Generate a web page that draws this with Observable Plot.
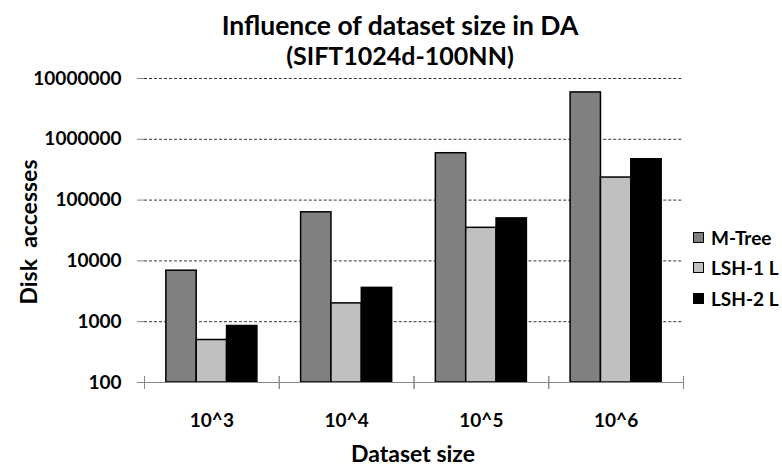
<!DOCTYPE html>
<html><head><meta charset="utf-8">
<script src="https://cdn.jsdelivr.net/npm/d3@7"></script>
<script src="https://cdn.jsdelivr.net/npm/@observablehq/plot@0.6"></script>
<style>
body{margin:0;background:#fff;font-family:Lato,sans-serif}
#wrap{position:relative;width:782px;height:468px}
#title{position:absolute;left:0;top:10px;width:800px;text-align:center;font-weight:bold;font-size:26.5px;line-height:30px;color:#000}
#title .l2{font-size:25px}
#legend{position:absolute;left:693px;top:222px;font-weight:bold;font-size:19px;color:#000}
.item{display:flex;align-items:center;height:30.5px}
.sw{width:9px;height:9px;border:1.5px solid #000;margin-right:7px}
#xlab{position:absolute;left:0;width:826px;top:442px;line-height:1;text-align:center;font-weight:bold;font-size:23px;color:#000}
#ylab{position:absolute;left:28px;top:232px;line-height:1;transform:translate(-50%,-50%) rotate(-90deg);font-weight:bold;font-size:23px;white-space:pre;color:#000}
</style></head>
<body>
<div id="wrap">
<div id="chart"></div>
<div id="title">Influence of dataset size in DA<br><span class="l2">(SIFT1024d-100NN)</span></div>
<div id="legend"></div>
<div id="xlab">Dataset size</div>
<div id="ylab">Disk  accesses</div>
</div>
<script>
const sizes = ["10^3","10^4","10^5","10^6"];
const series = ["M-Tree","LSH-1 L","LSH-2 L"];
const mtree = [6900, 63000, 590000, 5900000];
const lsh1 = [500, 2000, 35000, 235000];
const lsh2 = [850, 3600, 50000, 470000];
const colors = ["#808080","#c0c0c0","#000000"];
const yTicks = [100,1000,10000,100000,1000000,10000000];

const values = [mtree, lsh1, lsh2];
const rows = [];
sizes.forEach((s,i)=>series.forEach((n,j)=>rows.push({size:s, series:n, value:values[j][i]})));

const chart = Plot.plot({
  width: 782, height: 468,
  marginTop: 78, marginBottom: 86, marginLeft: 144, marginRight: 99,
  style: {fontFamily: 'Lato, sans-serif', background: "#fff", color: "#000"},
  fx: {domain: sizes, padding: 0, round: false},
  x: {domain: series, paddingInner: 0, paddingOuter: 0.72, axis: null, round: false},
  y: {type: "log", domain: [100, 10000000]},
  color: {domain: series, range: colors},
  marks: [
    Plot.gridY(yTicks.slice(1), {stroke: "#000", strokeOpacity: 1, strokeDasharray: "3,2", strokeWidth: 0.8}),
    Plot.barY(rows, {fx: "size", x: "series", y1: d => 100, y2: "value", fill: "series", stroke: "#000", strokeWidth: 1.5}),
    Plot.ruleY([100], {stroke: "#888"}),
    Plot.frame({anchor: "left", insetTop: 298, insetBottom: -6, stroke: "#888"}),
    Plot.frame({anchor: "right", insetTop: 298, insetBottom: -6, stroke: "#888"}),
    Plot.axisY(yTicks, {tickFormat: d3.format("d"), tickSize: 7, tickPadding: 16, fontSize: 19, fontWeight: "bold", stroke: "#888", fill: "#000", line: true, label: null}),
    Plot.axisFx({anchor: "bottom", tickSize: 0, tickPadding: 31, fontSize: 19, fontWeight: "bold", fill: "#000", label: null})
  ]
});
document.getElementById("chart").appendChild(chart);

const lg = document.getElementById("legend");
series.forEach((s,i)=>{
  const it = document.createElement("div"); it.className = "item";
  const sw = document.createElement("span"); sw.className = "sw"; sw.style.background = colors[i];
  const t = document.createElement("span"); t.textContent = s;
  it.appendChild(sw); it.appendChild(t); lg.appendChild(it);
});
</script>
</body></html>
